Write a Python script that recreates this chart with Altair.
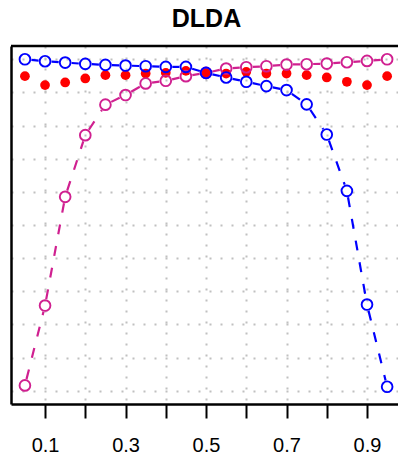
import math
import altair as alt
import pandas as pd

# Probability cut-offs and the three performance curves of the DLDA classifier
cutoff = [0.05, 0.10, 0.15, 0.20, 0.25, 0.30, 0.35, 0.40, 0.45, 0.50,
          0.55, 0.60, 0.65, 0.70, 0.75, 0.80, 0.85, 0.90, 0.95]
sensitivity = [1.000, 0.994, 0.990, 0.986, 0.983, 0.981, 0.979, 0.977, 0.977, 0.959,
               0.945, 0.932, 0.919, 0.907, 0.864, 0.773, 0.603, 0.260, 0.012]
specificity = [0.016, 0.257, 0.585, 0.771, 0.863, 0.892, 0.927, 0.935, 0.949, 0.959,
               0.972, 0.976, 0.979, 0.984, 0.985, 0.987, 0.991, 0.995, 1.000]
accuracy = [0.949, 0.922, 0.930, 0.942, 0.952, 0.952, 0.957, 0.959, 0.965, 0.959,
            0.957, 0.962, 0.957, 0.957, 0.952, 0.945, 0.932, 0.922, 0.949]

x_ticks = [0.1, 0.2, 0.3, 0.4, 0.5, 0.6, 0.7, 0.8, 0.9]
y_grid = [0.0, 0.1, 0.2, 0.3, 0.4, 0.5, 0.6, 0.7, 0.8, 0.9, 1.0]

W, H = 387, 358
X_DOM = [0.0154, 0.977]
Y_DOM = [-0.04, 1.04]
GAP = 6.5  # pixel gap left between a point and its connecting segment

BLUE = "#0000FF"
PINK = "#D02090"
RED = "#FF0000"
GRID = "#C0C0C0"
FONT = "Liberation Sans"

xs = alt.Scale(domain=X_DOM, nice=False, zero=False)
ys = alt.Scale(domain=Y_DOM, nice=False, zero=False)


def points_df(values):
    return pd.DataFrame({"cutoff": cutoff, "value": values})


def segments_df(values):
    # one segment per consecutive pair, trimmed at both ends (type "b" style)
    kx = W / (X_DOM[1] - X_DOM[0])
    ky = H / (Y_DOM[1] - Y_DOM[0])
    rows = []
    for i in range(len(cutoff) - 1):
        x0, x1 = cutoff[i], cutoff[i + 1]
        y0, y1 = values[i], values[i + 1]
        length = math.hypot((x1 - x0) * kx, (y1 - y0) * ky)
        if length <= 2 * GAP:
            continue
        f = GAP / length
        rows.append({
            "x": x0 + (x1 - x0) * f, "y": y0 + (y1 - y0) * f,
            "x2": x1 - (x1 - x0) * f, "y2": y1 - (y1 - y0) * f,
        })
    return pd.DataFrame(rows)


x_axis = alt.Axis(
    values=x_ticks, format=".1f",
    labelExpr="round(datum.value * 10) % 2 == 1 ? datum.label : ''",
    labelFont=FONT, labelFontSize=20, labelColor="black", labelPadding=17,
    labelFlush=False, labelOverlap=False,
    tickSize=14, tickWidth=2, tickColor="black",
    domainColor="black", domainWidth=2.5,
    grid=True, gridColor=GRID, gridWidth=2, gridDash=[2, 9],
    title=None,
)
y_axis = alt.Axis(
    values=y_grid, labels=False, ticks=False,
    domainColor="black", domainWidth=2.5,
    grid=True, gridColor=GRID, gridWidth=2, gridDash=[2, 9],
    title=None,
)


def seg_layer(values, color):
    return alt.Chart(segments_df(values)).mark_rule(
        color=color, strokeWidth=2.2, strokeDash=[10, 12]
    ).encode(
        x=alt.X("x:Q", scale=xs, axis=x_axis),
        y=alt.Y("y:Q", scale=ys, axis=y_axis),
        x2="x2:Q", y2="y2:Q",
    )


def ring_layer(values, color):
    return alt.Chart(points_df(values)).mark_point(
        shape="circle", filled=False, size=115, strokeWidth=1.9,
        color=color, opacity=1,
    ).encode(
        x=alt.X("cutoff:Q", scale=xs, axis=x_axis),
        y=alt.Y("value:Q", scale=ys, axis=y_axis),
    )


acc_layer = alt.Chart(points_df(accuracy)).mark_circle(
    size=95, color=RED, opacity=1
).encode(
    x=alt.X("cutoff:Q", scale=xs, axis=x_axis),
    y=alt.Y("value:Q", scale=ys, axis=y_axis),
)

top_frame = alt.Chart(pd.DataFrame({"k": [0]})).mark_rule(
    color="black", strokeWidth=2.5
).encode(x=alt.value(0), x2=alt.value(W), y=alt.value(0))

chart = alt.layer(
    acc_layer,
    seg_layer(specificity, PINK),
    ring_layer(specificity, PINK),
    seg_layer(sensitivity, BLUE),
    ring_layer(sensitivity, BLUE),
    top_frame,
).properties(
    width=W, height=H,
    title=alt.TitleParams(
        "DLDA", font=FONT, fontSize=25, fontWeight="bold", color="black",
        anchor="middle", dx=2, dy=25, offset=18, baseline="alphabetic",
    ),
    autosize=alt.AutoSizeParams(type="none"),
    padding={"left": 11, "top": 46, "right": 0, "bottom": 51},
    background="white",
).configure_view(stroke=None)

chart.save("out.html", embed_options={"renderer": "svg", "actions": False})
